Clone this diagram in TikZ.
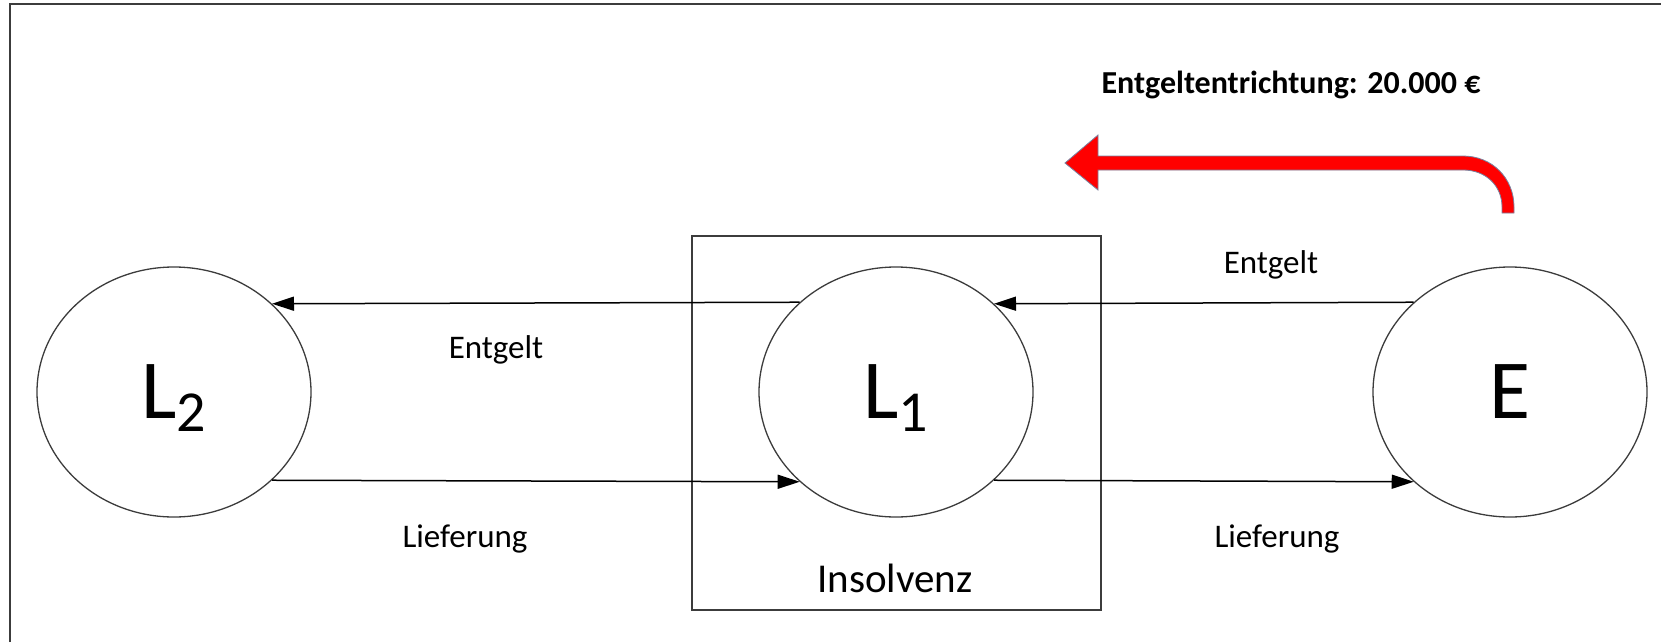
\documentclass[tikz,border=0pt]{standalone}
\usepackage{fontspec}
\setmainfont{Carlito}
\usetikzlibrary{arrows.meta,shapes.geometric}
\definecolor{edgegray}{RGB}{60,60,60}
\definecolor{arrowred}{RGB}{255,0,0}
\definecolor{arrowrim}{RGB}{120,130,160}
\begin{document}
\begin{tikzpicture}[x=1pt,y=-1pt,
  party/.style={ellipse, draw=edgegray, line width=1.3pt, fill=white,
    minimum width=274pt, minimum height=250pt, inner sep=0pt,
    font=\fontsize{84}{90}\selectfont},
  flow/.style={line width=1.5pt, draw=black, -{Triangle[length=22pt,width=14pt]}},
  lbl/.style={anchor=base, font=\fontsize{33}{40}\selectfont, inner sep=0pt},
  frameline/.style={draw=edgegray, line width=2pt},
  boxline/.style={draw=edgegray, line width=1.5pt},
]
\useasboundingbox (0,0) rectangle (1661,642);

% outer frame (left and top edges)
\draw[frameline] (10,642) -- (10,4) -- (1661,4);

% insolvency box
\node[boxline, rectangle, minimum width=409pt, minimum height=374pt, inner sep=0pt] (box) at (896.5,423) {};
\node[anchor=base, font=\fontsize{41}{48}\selectfont, inner sep=0pt] (insolvenz) at (895,592) {Insolvenz};

% parties
\node[party] (L2) at (174,392) {L\raisebox{-13pt}[0pt][0pt]{\fontsize{58}{60}\selectfont 2}};
\node[party] (L1) at (896,392) {L\raisebox{-13pt}[0pt][0pt]{\fontsize{58}{60}\selectfont 1}};
\node[party] (E)  at (1510,392) {E};

% connectors
\draw[flow] (L1.137.2) -- (L2.42.8);
\draw[flow] (E.137.2) -- (L1.42.8);
\draw[flow] (L2.-42.1) -- (L1.-137.9);
\draw[flow] (L1.-42.1) -- (E.-137.9);

% labels
\node[lbl] (entgeltL) at (496,358) {Entgelt};
\node[lbl] (entgeltR) at (1271,273) {Entgelt};
\node[lbl] (lieferL) at (465,547) {Lieferung};
\node[lbl] (lieferR) at (1277,547) {Lieferung};

% payment title
\node[anchor=base, font=\bfseries\fontsize{32}{38}\selectfont, inner sep=0pt] (title) at (1291,93) {Entgeltentrichtung: 20.000 €};

% red curved arrow
\draw[fill=arrowred, draw=arrowrim, line width=0.8pt, line join=miter]
  (1065,163) -- (1098,135) -- (1098,156) -- (1463,156)
  .. controls (1492,156) and (1514,178) .. (1514,207)
  -- (1514,213) -- (1502,213) -- (1502,207)
  .. controls (1502,186) and (1486,170) .. (1463,170)
  -- (1098,170) -- (1098,190) -- cycle;
\end{tikzpicture}
\end{document}
